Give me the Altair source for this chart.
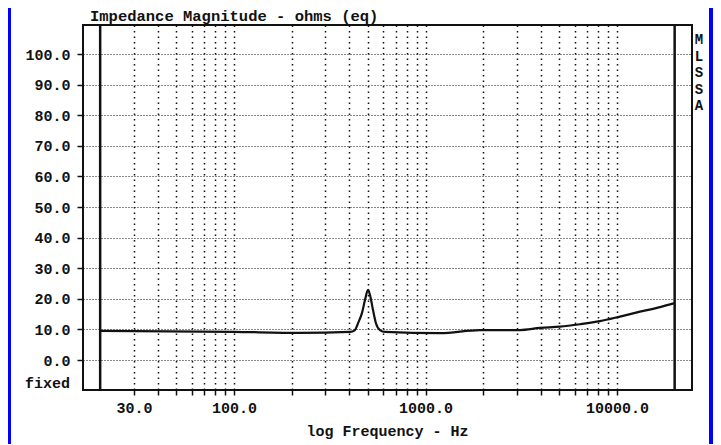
import altair as alt
import pandas as pd

# ---- data ----
freq_hz = [20, 100, 221, 404, 428, 444, 466, 483, 501, 513, 532, 551, 578, 615,
           1190, 1926, 3115, 3963, 5040, 6410, 8150, 10370, 13190, 16770, 20000]
impedance_ohm = [9.5, 9.2, 8.9, 9.2, 9.8, 12.0, 15.4, 19.6, 22.9, 21.2, 16.3, 12.0, 9.8, 9.2,
                 8.8, 9.8, 9.8, 10.5, 10.9, 11.7, 12.7, 14.2, 15.8, 17.3, 18.6]
grid_freqs = [30, 40, 50, 60, 70, 80, 90, 100,
              200, 300, 400, 500, 600, 700, 800, 900, 1000,
              2000, 3000, 4000, 5000, 6000, 7000, 8000, 9000, 10000]
labeled_freqs = [30, 100, 1000, 10000]
y_ticks = [0, 10, 20, 30, 40, 50, 60, 70, 80, 90, 100]
frame_freqs = [20, 20000]
side_letters = ["M", "L", "S", "S", "A"]
title_text = "Impedance Magnitude - ohms (eq)"
x_title_text = "log Frequency - Hz"
fixed_text = "fixed"

# ---- layout ----
W, H = 609, 365
FONT = "Liberation Mono"
INK = "#111111"

xscale = alt.Scale(type="log", domain=[16.27, 24640], nice=False)
yscale = alt.Scale(domain=[-9.8, 109.5], nice=False, zero=False)

lab_list = ",".join(str(v) for v in labeled_freqs)
xaxis = alt.Axis(
    values=grid_freqs, grid=True, gridDash=[1.5, 4], gridColor=INK, gridWidth=1.5,
    gridOpacity=1, domain=False, ticks=True, tickSize=5, tickColor=INK, tickWidth=1.5,
    labelExpr=f"indexof([{lab_list}], datum.value) >= 0 ? format(datum.value, '.1f') : ''",
    labelFont=FONT, labelFontSize=15, labelFontWeight="bold", labelColor=INK,
    labelBaseline="middle", labelPadding=12, labelOverlap=False, labelFlush=False,
    title=None,
)
yaxis = alt.Axis(
    values=y_ticks, format=".1f", grid=True, gridDash=[1, 2], gridColor=INK,
    gridWidth=1, gridOpacity=1, domain=False, tickSize=6, tickColor=INK, tickWidth=1.5,
    labelPadding=7, labelFont=FONT, labelFontSize=15, labelFontWeight="bold",
    labelColor=INK, title=None,
)

curve_df = pd.DataFrame({"f": freq_hz, "z": impedance_ohm})

curve = alt.Chart(curve_df).mark_line(
    color=INK, strokeWidth=2.2, interpolate="monotone"
).encode(
    x=alt.X("f:Q", scale=xscale, axis=xaxis),
    y=alt.Y("z:Q", scale=yscale, axis=yaxis),
)

frame_lines = alt.Chart(pd.DataFrame({"f": frame_freqs})).mark_rule(
    color=INK, strokeWidth=2.5
).encode(x=alt.X("f:Q", scale=xscale, axis=xaxis))


def text_layer(txt, x, y, size=15, align="left"):
    return alt.Chart(pd.DataFrame({"t": [txt]})).mark_text(
        align=align, baseline="middle", font=FONT, fontSize=size,
        fontWeight="bold", color=INK,
    ).encode(x=alt.value(x), y=alt.value(y), text="t:N")


layers = [curve, frame_lines,
          text_layer(title_text, 7, -9, 15.5),
          text_layer(x_title_text, W / 2, 406, 15, "center"),
          text_layer(fixed_text, -13, 358, 15, "right")]
for i, letter in enumerate(side_letters):
    layers.append(text_layer(letter, 616, 15 + 16.5 * i, 14, "center"))

# blue scan border
blue_right = alt.Chart(pd.DataFrame({"a": [0]})).mark_rule(color="#0000ff", strokeWidth=4).encode(
    x=alt.value(628), y=alt.value(-30), y2=alt.value(430))
blue_left = alt.Chart(pd.DataFrame({"a": [0]})).mark_rule(color="#0000ff", strokeWidth=3).encode(
    x=alt.value(-73.5), y=alt.value(-30), y2=alt.value(430))
layers += [blue_right, blue_left]

chart = alt.layer(*layers).properties(
    width=W, height=H,
    padding={"left": 75, "top": 17, "right": 21, "bottom": 54},
    autosize=alt.AutoSizeParams(type="none"),
    background="white",
).configure_view(stroke=INK, strokeWidth=2)

chart.save("out.html", embed_options={"renderer": "svg", "actions": False})
